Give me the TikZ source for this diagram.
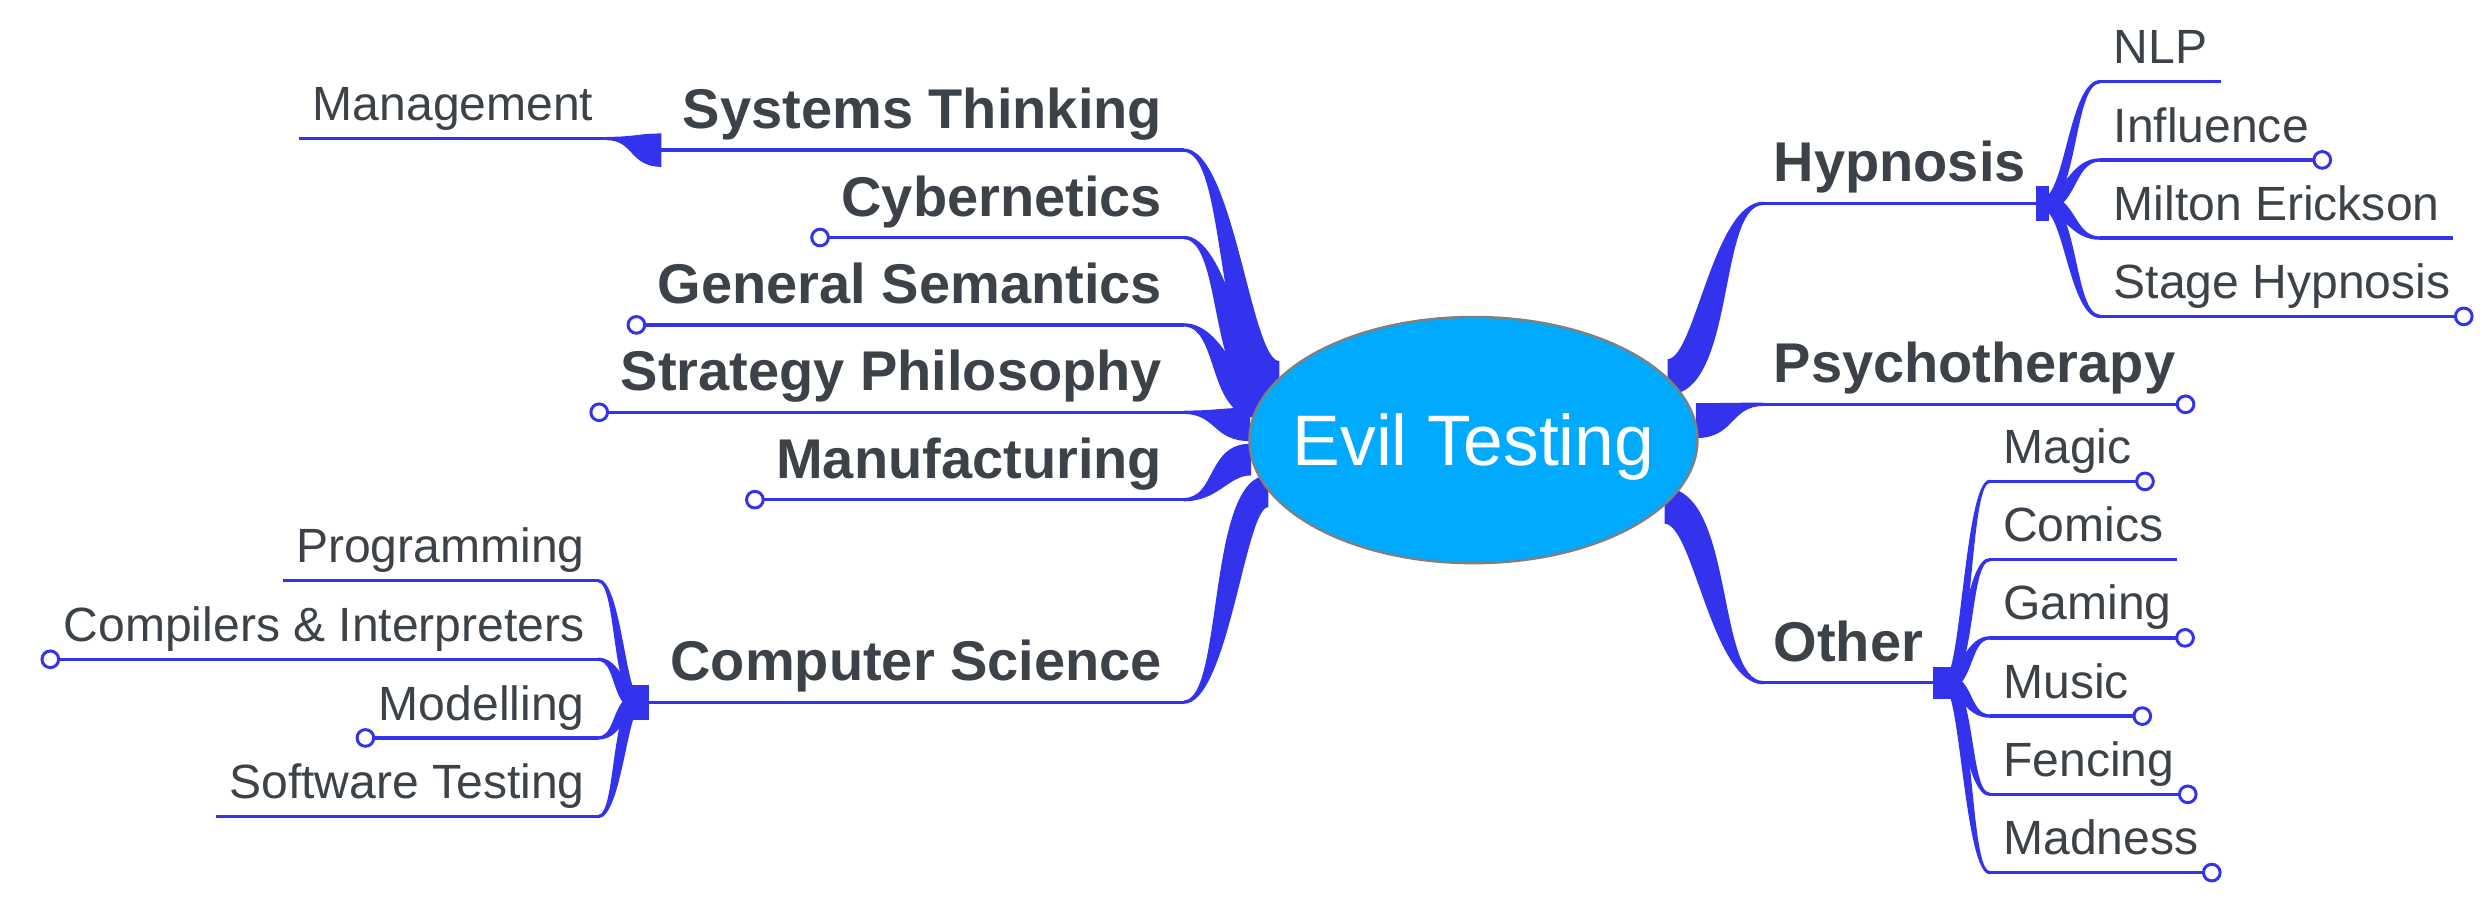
\documentclass[tikz,border=0pt]{standalone}
\usepackage{fontspec}
\setmainfont{Liberation Sans}
\usetikzlibrary{positioning, calc, backgrounds, shapes.geometric}

\definecolor{mapblue}{RGB}{51,51,238}
\definecolor{maptext}{RGB}{60,66,72}
\definecolor{corefill}{RGB}{0,170,255}
\definecolor{coreline}{RGB}{128,128,128}

\tikzset{
	core/.style={ellipse, draw=coreline, line width=0.6pt, fill=corefill, minimum width=112.8pt, minimum height=62pt, inner sep=0pt, text=white, text depth=0pt, font=\fontsize{18}{20}\selectfont},
	topic/.style={inner xsep=5.2pt, inner ysep=0pt, text depth=5.2pt, text=maptext, font=\fontsize{14.1}{16}\selectfont\bfseries},
	leaf/.style={inner xsep=3.2pt, inner ysep=0pt, text depth=4.3pt, text=maptext, font=\fontsize{12.1}{14}\selectfont},
	twig/.style={fill=mapblue},
	rule/.style={draw=mapblue, line width=0.85pt},
	knob/.style={draw=mapblue, fill=white, line width=0.75pt}
}

% tapered branch: from, to, half width at start, half width at end
\newcommand\twig[4]{%
	\fill[twig] let \p1=(#1), \p2=(#2),
		\n1={(\x2-\x1)/2},
		\n2={-1.333*((\x2>\x1)?1:-1)*(\y2-\y1)/veclen(\x2-\x1,\y2-\y1)} in
		(\x1,{\y1+#3}) .. controls ({\x1+\n1+\n2*#3},{\y1+#3}) and ({\x2-\n1+\n2*#4},{\y2+#4}) .. (\x2,{\y2+#4})
		-- (\x2,{\y2-#4}) .. controls ({\x2-\n1-\n2*#4},{\y2-#4}) and ({\x1+\n1-\n2*#3},{\y1-#3}) .. (\x1,{\y1-#3}) -- cycle;}

\begin{document}
\begin{tikzpicture}[x=0.4pt, y=-0.4pt]
	\useasboundingbox (0,0) rectangle (1568,568);

	\node[core] (core) at (927.5,277) {\makebox[0pt]{Evil Testing}};

	\node[topic, anchor=south east] (syst) at (745,94.5) {Systems Thinking};
	\node[topic, below=22pt of syst.south east, anchor=south east] (cyb) {Cybernetics};
	\node[topic, below=22pt of cyb.south east, anchor=south east] (gsem) {General Semantics};
	\node[topic, below=22pt of gsem.south east, anchor=south east] (strat) {Strategy Philosophy};
	\node[topic, below=22pt of strat.south east, anchor=south east] (manu) {Manufacturing};
	\node[topic, anchor=south east] (cs) at (745,442) {Computer Science};

	\node[topic, inner xsep=2.4pt, anchor=south west] (hyp) at (1110,128) {Hypnosis};
	\node[topic, inner xsep=2.4pt, anchor=south west] (psy) at (1110,254.5) {Psychotherapy};
	\node[topic, inner xsep=2.4pt, anchor=south west] (oth) at (1110,429.7) {Other};

	\node[leaf, anchor=south east] (mgmt) at (382,87.2) {Management};

	\node[leaf, anchor=south east] (prog) at (376.5,365.5) {Programming};
	\node[leaf, below=19.8pt of prog.south east, anchor=south east] (comp) {Compilers \& Interpreters};
	\node[leaf, below=19.8pt of comp.south east, anchor=south east] (model) {Modelling};
	\node[leaf, below=19.8pt of model.south east, anchor=south east] (soft) {Software Testing};

	\node[leaf, anchor=south west] (nlp) at (1322,51.4) {NLP};
	\node[leaf, below=19.7pt of nlp.south west, anchor=south west] (infl) {Influence};
	\node[leaf, below=19.7pt of infl.south west, anchor=south west] (milton) {Milton Erickson};
	\node[leaf, below=19.7pt of milton.south west, anchor=south west] (stage) {Stage Hypnosis};

	\node[leaf, anchor=south west] (magic) at (1252.5,303) {Magic};
	\node[leaf, below=19.7pt of magic.south west, anchor=south west] (comics) {Comics};
	\node[leaf, below=19.7pt of comics.south west, anchor=south west] (gaming) {Gaming};
	\node[leaf, below=19.7pt of gaming.south west, anchor=south west] (music) {Music};
	\node[leaf, below=19.7pt of music.south west, anchor=south west] (fencing) {Fencing};
	\node[leaf, below=19.7pt of fencing.south west, anchor=south west] (madness) {Madness};

	\coordinate (cshub) at ($(cs.south west)+(-6,0)$);
	\coordinate (hyphub) at ($(hyp.south east)+(4,0)$);
	\coordinate (othhub) at ($(oth.south east)+(7,0)$);

	\begin{pgfonlayer}{background}
		\twig{core.162}{syst.south east}{4pt}{0.42pt}
		\twig{core.166}{cyb.south east}{4pt}{0.42pt}
		\twig{core.170}{gsem.south east}{4pt}{0.42pt}
		\twig{core.176}{strat.south east}{4.2pt}{0.42pt}
		\twig{core.185}{manu.south east}{4pt}{0.42pt}
		\twig{core.194}{cs.south east}{4pt}{0.42pt}
		\twig{core.18}{hyp.south west}{4.5pt}{0.42pt}
		\twig{core.5}{psy.south west}{4.4pt}{0.42pt}
		\twig{core.341}{oth.south west}{4.5pt}{0.42pt}

		\twig{syst.south west}{mgmt.south east}{4.2pt}{0.42pt}

		\fill[twig] ($(cs.south west)+(-13,-11)$) rectangle ++(13,22);
		\twig{cshub}{prog.south east}{1.4pt}{0.42pt}
		\twig{cshub}{comp.south east}{2.2pt}{0.42pt}
		\twig{cshub}{model.south east}{2.2pt}{0.42pt}
		\twig{cshub}{soft.south east}{1.8pt}{0.42pt}

		\fill[twig] ($(hyp.south east)+(0,-11)$) rectangle ++(8,22);
		\twig{hyphub}{nlp.south west}{1.4pt}{0.42pt}
		\twig{hyphub}{infl.south west}{2pt}{0.42pt}
		\twig{hyphub}{milton.south west}{2.2pt}{0.42pt}
		\twig{hyphub}{stage.south west}{1.6pt}{0.42pt}

		\fill[twig] ($(oth.south east)+(0,-10)$) rectangle ++(14,20);
		\twig{othhub}{magic.south west}{1.2pt}{0.42pt}
		\twig{othhub}{comics.south west}{1.6pt}{0.42pt}
		\twig{othhub}{gaming.south west}{2pt}{0.42pt}
		\twig{othhub}{music.south west}{2.2pt}{0.42pt}
		\twig{othhub}{fencing.south west}{1.8pt}{0.42pt}
		\twig{othhub}{madness.south west}{1.4pt}{0.42pt}
	\end{pgfonlayer}

	\draw[rule]
	(syst.south west) -- (syst.south east)
	(cyb.south west) -- (cyb.south east)
	(gsem.south west) -- (gsem.south east)
	(strat.south west) -- (strat.south east)
	(manu.south west) -- (manu.south east)
	(cs.south west) -- (cs.south east)
	(hyp.south west) -- (hyp.south east)
	(psy.south west) -- (psy.south east)
	(oth.south west) -- (oth.south east)
	(mgmt.south west) -- (mgmt.south east)
	(prog.south west) -- (prog.south east)
	(comp.south west) -- (comp.south east)
	(model.south west) -- (model.south east)
	(soft.south west) -- (soft.south east)
	(nlp.south west) -- (nlp.south east)
	(infl.south west) -- (infl.south east)
	(milton.south west) -- (milton.south east)
	(stage.south west) -- (stage.south east)
	(magic.south west) -- (magic.south east)
	(comics.south west) -- (comics.south east)
	(gaming.south west) -- (gaming.south east)
	(music.south west) -- (music.south east)
	(fencing.south west) -- (fencing.south east)
	(madness.south west) -- (madness.south east);

	\draw[knob]
	(cyb.south west) circle (2.1pt)
	(gsem.south west) circle (2.1pt)
	(strat.south west) circle (2.1pt)
	(manu.south west) circle (2.1pt)
	(comp.south west) circle (2.1pt)
	(model.south west) circle (2.1pt)
	(infl.south east) circle (2.1pt)
	(stage.south east) circle (2.1pt)
	(psy.south east) circle (2.1pt)
	(magic.south east) circle (2.1pt)
	(gaming.south east) circle (2.1pt)
	(music.south east) circle (2.1pt)
	(fencing.south east) circle (2.1pt)
	(madness.south east) circle (2.1pt);
\end{tikzpicture}
\end{document}
